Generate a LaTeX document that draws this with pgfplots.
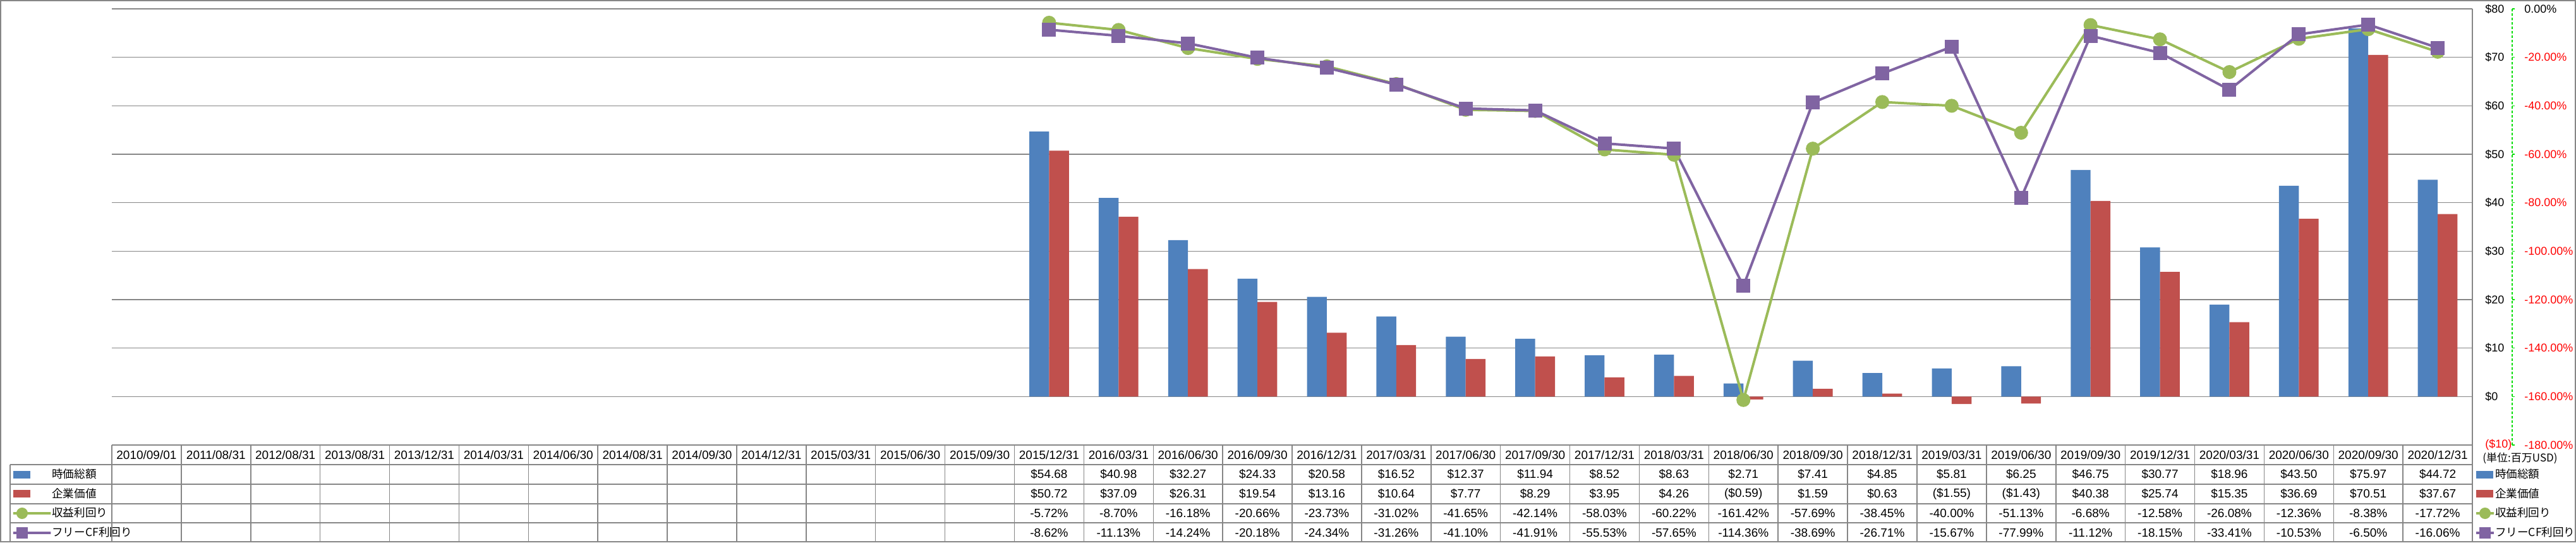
\documentclass[border=0pt]{standalone}
\usepackage{fontspec}
\setmainfont{Liberation Sans}
\newfontfamily\jp{Noto Sans CJK JP}
\usepackage{pgfplots}
\usepackage{pgfplotstable}
\pgfplotsset{compat=1.18}
\definecolor{cBlue}{HTML}{4F81BD}
\definecolor{cRed}{HTML}{C0504D}
\definecolor{cGreen}{HTML}{9BBB59}
\definecolor{cPurple}{HTML}{8064A2}
\definecolor{cGrid}{HTML}{868686}
\definecolor{cDash}{HTML}{00DD00}
\definecolor{cNeg}{HTML}{FF0000}

\pgfplotstableread{
x mcap ev ey fcf
13 54.68 50.72 -5.72 -8.62
14 40.98 37.09 -8.70 -11.13
15 32.27 26.31 -16.18 -14.24
16 24.33 19.54 -20.66 -20.18
17 20.58 13.16 -23.73 -24.34
18 16.52 10.64 -31.02 -31.26
19 12.37 7.77 -41.65 -41.10
20 11.94 8.29 -42.14 -41.91
21 8.52 3.95 -58.03 -55.53
22 8.63 4.26 -60.22 -57.65
23 2.71 -0.59 -161.42 -114.36
24 7.41 1.59 -57.69 -38.69
25 4.85 0.63 -38.45 -26.71
26 5.81 -1.55 -40.00 -15.67
27 6.25 -1.43 -51.13 -77.99
28 46.75 40.38 -6.68 -11.12
29 30.77 25.74 -12.58 -18.15
30 18.96 15.35 -26.08 -33.41
31 43.50 36.69 -12.36 -10.53
32 75.97 70.51 -8.38 -6.50
33 44.72 37.67 -17.72 -16.06
}\data

\def\cw{54.941176pt}
\pgfplotsset{
  common/.style={at={(0pt,0pt)}, anchor=south west, scale only axis,
    width=1868pt, height=345pt, xmin=-0.5, xmax=33.5, clip=false},
  legrect/.style={legend image code/.code={\fill[#1] (0pt,-2.75pt) rectangle (13pt,2.75pt);}},
  legline/.style={legend image code/.code={\draw[mark repeat=2,mark phase=2,##1] plot coordinates {(0pt,0pt) (7pt,0pt) (14pt,0pt)};}},
  mylegend/.style={legend cell align=left,
    legend style={at={(#1,-0.04493)}, anchor=north west, draw=none, fill=none,
      inner sep=0pt, outer sep=0pt,
      font=\fontsize{8.8}{10}\selectfont\jp,
      nodes={inner sep=0pt, minimum height=15.4pt},
      row sep=0pt,
      /tikz/every even column/.append style={column sep=2pt}}},
}

\begin{document}
\begin{tikzpicture}[font=\fontsize{9.5}{11}\selectfont]
\path[use as bounding box] (-88.5pt,-77pt) rectangle (1950pt,352pt);

\begin{axis}[common, ymin=-10, ymax=80,
  axis x line*=bottom, axis y line*=right,
  axis line style={cGrid, line width=0.75pt, -},
  xtick=\empty,
  ytick={-10,0,...,80},
  yticklabels={{\color{cNeg}(\$10)},\$0,\$10,\$20,\$30,\$40,\$50,\$60,\$70,\$80},
  ymajorgrids, grid style={cGrid, line width=0.75pt},
  major tick length=0pt,
  yticklabel style={anchor=west, inner sep=0pt, xshift=10pt, font=\fontsize{9}{10}\selectfont},
  ybar=0pt, bar width=15.7pt,
  mylegend=-0.04229,
]
\addlegendimage{legrect=cBlue}
\addlegendentry{時価総額}
\addlegendimage{legrect=cRed}
\addlegendentry{企業価値}
\addlegendimage{cGreen, line width=2pt, mark=*, mark size=3.5pt, mark options={draw=none, fill=cGreen}, legline}
\addlegendentry{収益利回り}
\addlegendimage{cPurple, line width=2pt, mark=square*, mark size=3.5pt, mark options={draw=none, fill=cPurple}, legline}
\addlegendentry{フリーCF利回り}
\addplot[fill=cBlue, draw=none, forget plot, bar shift=-7.85pt] table[x=x,y=mcap]{\data};
\addplot[fill=cRed, draw=none, forget plot, bar shift=7.85pt] table[x=x,y=ev]{\data};
\end{axis}

\begin{axis}[common, ymin=-180, ymax=0,
  axis x line=none, axis y line*=right,
  y axis line style={cDash, dash pattern=on 2pt off 1.5pt, line width=0.75pt, xshift=31.5pt, -},
  ytick={-180,-160,...,0},
  yticklabels={{\color{cNeg}-180.00\%},{\color{cNeg}-160.00\%},{\color{cNeg}-140.00\%},{\color{cNeg}-120.00\%},{\color{cNeg}-100.00\%},{\color{cNeg}-80.00\%},{\color{cNeg}-60.00\%},{\color{cNeg}-40.00\%},{\color{cNeg}-20.00\%},0.00\%},
  ytick style={cDash, line width=0.75pt, xshift=31.5pt},
  tick align=outside, major tick length=2pt,
  yticklabel style={anchor=west, inner sep=0pt, xshift=39pt, font=\fontsize{9}{10}\selectfont},
  mylegend=1.00107,
]
\addlegendimage{legrect=cBlue}
\addlegendentry{時価総額}
\addlegendimage{legrect=cRed}
\addlegendentry{企業価値}
\addlegendimage{cGreen, line width=2pt, mark=*, mark size=3.5pt, mark options={draw=none, fill=cGreen}, legline}
\addlegendentry{収益利回り}
\addlegendimage{cPurple, line width=2pt, mark=square*, mark size=3.5pt, mark options={draw=none, fill=cPurple}, legline}
\addlegendentry{フリーCF利回り}
\addplot[cGreen, line width=2pt, mark=*, mark size=4.5pt, mark options={draw=none, fill=cGreen}, forget plot]
  table[x=x,y=ey]{\data};
\addplot[cPurple, line width=2pt, mark=square*, mark size=4.5pt, mark options={draw=none, fill=cPurple}, forget plot]
  table[x=x,y=fcf]{\data};
\end{axis}

% data table grid
\begin{scope}[cGrid, line width=0.75pt]
\draw (0pt,0pt) -- (1868pt,0pt);
\foreach \yy in {-15.5,-31,-46.5,-61.5} \draw (-80.5pt,\yy pt) -- (1868pt,\yy pt);
\foreach \k in {0,...,34} \draw ({\k*\cw},0pt) -- ({\k*\cw},-77pt);
\draw (-80.5pt,-15.5pt) -- (-80.5pt,-77pt);
\end{scope}
\draw[cGrid, line width=1pt] (-88pt,-76.5pt) rectangle (1949.5pt,351.5pt);

\foreach \d [count=\i from 0] in {2010/09/01,2011/08/31,2012/08/31,2013/08/31,2013/12/31,2014/03/31,2014/06/30,2014/08/31,2014/09/30,2014/12/31,2015/03/31,2015/06/30,2015/09/30,2015/12/31,2016/03/31,2016/06/30,2016/09/30,2016/12/31,2017/03/31,2017/06/30,2017/09/30,2017/12/31,2018/03/31,2018/06/30,2018/09/30,2018/12/31,2019/03/31,2019/06/30,2019/09/30,2019/12/31,2020/03/31,2020/06/30,2020/09/30,2020/12/31}
  \node at ({(\i+0.5)*\cw},-7.75pt) {\d};
\foreach \v [count=\i from 13] in {\$54.68,\$40.98,\$32.27,\$24.33,\$20.58,\$16.52,\$12.37,\$11.94,\$8.52,\$8.63,\$2.71,\$7.41,\$4.85,\$5.81,\$6.25,\$46.75,\$30.77,\$18.96,\$43.50,\$75.97,\$44.72}
  \node at ({(\i+0.5)*\cw},-23.25pt) {\v};
\foreach \v [count=\i from 13] in {\$50.72,\$37.09,\$26.31,\$19.54,\$13.16,\$10.64,\$7.77,\$8.29,\$3.95,\$4.26,(\$0.59),\$1.59,\$0.63,(\$1.55),(\$1.43),\$40.38,\$25.74,\$15.35,\$36.69,\$70.51,\$37.67}
  \node at ({(\i+0.5)*\cw},-38.75pt) {\v};
\foreach \v [count=\i from 13] in {-5.72\%,-8.70\%,-16.18\%,-20.66\%,-23.73\%,-31.02\%,-41.65\%,-42.14\%,-58.03\%,-60.22\%,-161.42\%,-57.69\%,-38.45\%,-40.00\%,-51.13\%,-6.68\%,-12.58\%,-26.08\%,-12.36\%,-8.38\%,-17.72\%}
  \node at ({(\i+0.5)*\cw},-54pt) {\v};
\foreach \v [count=\i from 13] in {-8.62\%,-11.13\%,-14.24\%,-20.18\%,-24.34\%,-31.26\%,-41.10\%,-41.91\%,-55.53\%,-57.65\%,-114.36\%,-38.69\%,-26.71\%,-15.67\%,-77.99\%,-11.12\%,-18.15\%,-33.41\%,-10.53\%,-6.50\%,-16.06\%}
  \node at ({(\i+0.5)*\cw},-69.25pt) {\v};

\node[anchor=west, inner sep=0pt, font=\fontsize{8.5}{10}\selectfont\jp] at (1876pt,-10.5pt) {(単位:百万USD)};
\end{tikzpicture}
\end{document}
